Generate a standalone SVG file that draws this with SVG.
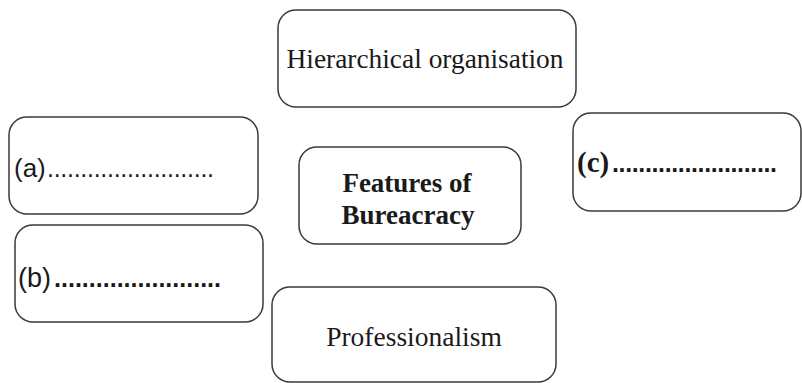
<svg xmlns="http://www.w3.org/2000/svg" width="802" height="383" viewBox="0 0 802 383">
  <style>
    .box { fill: #ffffff; stroke: #3a3a3a; stroke-width: 1.5; }
    .serif { font-family: "Liberation Serif", "DejaVu Serif", serif; fill: #1a1a1a; }
    .sans { font-family: "Liberation Sans", "DejaVu Sans", sans-serif; fill: #1a1a1a; }
    .dots { font-family: "Liberation Sans", "DejaVu Sans", sans-serif; fill: #1a1a1a; font-size: 25px; }
  </style>
  <rect width="802" height="383" fill="#ffffff"/>

  <g id="node-hierarchy">
    <rect class="box" x="278" y="10" width="298" height="97" rx="18"/>
    <text class="serif" x="425" y="68" font-size="27.5" text-anchor="middle" textLength="277" lengthAdjust="spacingAndGlyphs">Hierarchical organisation</text>
  </g>

  <g id="node-a">
    <rect class="box" x="9" y="117" width="249" height="97" rx="18"/>
    <text class="sans" x="14" y="177" font-size="26">(a)</text>
    <text class="dots" x="47" y="177" textLength="167" lengthAdjust="spacing">.........................</text>
  </g>

  <g id="node-b">
    <rect class="box" x="15" y="225" width="248" height="97" rx="18"/>
    <text class="sans" x="18" y="287" font-size="27">(b)</text>
    <text class="dots" x="54" y="287" font-weight="bold" textLength="167" lengthAdjust="spacing">........................</text>
  </g>

  <g id="node-center">
    <rect class="box" x="299" y="147" width="222" height="97" rx="18"/>
    <text class="serif" x="407" y="192" font-size="27" font-weight="bold" text-anchor="middle">Features of</text>
    <text class="serif" x="408" y="224" font-size="27" font-weight="bold" text-anchor="middle">Bureacracy</text>
  </g>

  <g id="node-c">
    <rect class="box" x="573" y="113" width="228" height="98" rx="18"/>
    <text class="serif" x="577" y="172" font-size="29" font-weight="bold">(c)</text>
    <text class="dots" x="612" y="172" font-weight="bold" textLength="165" lengthAdjust="spacing">.........................</text>
  </g>

  <g id="node-professionalism">
    <rect class="box" x="272" y="287" width="284" height="95" rx="18"/>
    <text class="serif" x="414" y="346" font-size="27.5" text-anchor="middle">Professionalism</text>
  </g>

  <g id="connectors"></g>
</svg>
